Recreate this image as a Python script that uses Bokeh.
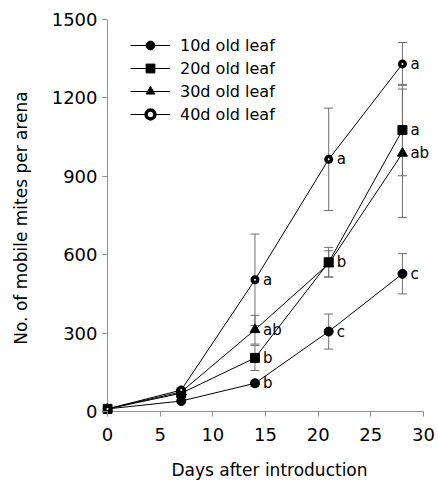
from bokeh.plotting import figure
from bokeh.models import Range1d, Whisker, TeeHead, ColumnDataSource, Legend, LegendItem, FixedTicker
from bokeh.core.properties import value
from bokeh.embed import file_html
from bokeh.resources import INLINE

days = [0, 7, 14, 21, 28]
leaf10 = [10, 40, 108, 306, 527]
err10 = [0, 5, 12, 67, 77]
leaf20 = [10, 70, 205, 571, 1077]
err20 = [0, 8, 48, 57, 175]
leaf30 = [10, 75, 313, 565, 988]
err30 = [0, 8, 55, 50, 246]
leaf40 = [10, 82, 504, 965, 1330]
err40 = [0, 10, 175, 196, 82]
sig10 = ["", "", "b", "c", "c"]
sig20 = ["", "", "b", "b", "a"]
sig30 = ["", "", "ab", "", "ab"]
sig40 = ["", "", "a", "a", "a"]
names = ["10d old leaf", "20d old leaf", "30d old leaf", "40d old leaf"]
x_ticks = [0, 5, 10, 15, 20, 25, 30]
y_ticks = [0, 300, 600, 900, 1200, 1500]

FONT = "DejaVu Sans"
GRAY = "#6e6e6e"
AXIS_GRAY = "#8f8f8f"

p = figure(width=436, height=486, output_backend="svg", toolbar_location=None,
           x_range=Range1d(-0.475, 31.235), y_range=Range1d(-19.1, 1500),
           min_border_left=102, min_border_right=0, min_border_top=19, min_border_bottom=70)
p.outline_line_color = None
p.xgrid.visible = False
p.ygrid.visible = False

for ax in (p.xaxis[0], p.yaxis[0]):
    ax.axis_line_color = None
    ax.major_tick_line_color = AXIS_GRAY
    ax.minor_tick_line_color = None
    ax.major_tick_in = 5
    ax.major_tick_out = 0
    ax.major_label_text_font = FONT
    ax.major_label_text_font_size = "18px"
    ax.major_label_text_color = "black"
    ax.axis_label_text_font = FONT
    ax.axis_label_text_font_size = "17px"
    ax.axis_label_text_font_style = "normal"
    ax.axis_label_text_color = "black"

p.xaxis.ticker = FixedTicker(ticks=x_ticks)
p.yaxis.ticker = FixedTicker(ticks=y_ticks)
p.xaxis.axis_label = "Days after introduction"
p.yaxis.axis_label = "No. of mobile mites per arena"
p.xaxis.major_label_standoff = 11
p.yaxis.major_label_standoff = 5
p.xaxis.axis_label_standoff = 16
p.yaxis.axis_label_standoff = 18

# axis lines through the origin, spanning the tick range
p.segment(x0=[x_ticks[0], x_ticks[0]], y0=[y_ticks[0], y_ticks[0]],
          x1=[x_ticks[-1], x_ticks[0]], y1=[y_ticks[0], y_ticks[-1]],
          line_color=AXIS_GRAY, line_width=1)

series = [
    (leaf10, err10, sig10, "circle", 9, "black", 1),
    (leaf20, err20, sig20, "square", 9, "black", 1),
    (leaf30, err30, sig30, "triangle", 10, "black", 1),
    (leaf40, err40, sig40, "circle", 5.5, "white", 3.5),
]

items = []
for (vals, errs, sigs, marker, size, fill, lw), name in zip(series, names):
    src = ColumnDataSource(dict(
        x=days, y=vals,
        lo=[v - e for v, e in zip(vals, errs)],
        hi=[v + e for v, e in zip(vals, errs)],
        lab=sigs))
    w = Whisker(source=src, base="x", lower="lo", upper="hi",
                line_color=GRAY, line_width=1,
                upper_head=TeeHead(size=9, line_color=GRAY, line_width=1),
                lower_head=TeeHead(size=9, line_color=GRAY, line_width=1))
    p.add_layout(w)
    lr = p.line("x", "y", source=src, line_color="black", line_width=1)
    sr = p.scatter("x", "y", source=src, marker=marker, size=size,
                   fill_color=fill, line_color="black", line_width=lw)
    p.text("x", "y", text="lab", source=src, x_offset=8,
           text_font=value(FONT), text_font_size="15px",
           text_align="left", text_baseline="middle", text_color="black")
    items.append(LegendItem(label=name, renderers=[lr, sr]))

legend = Legend(items=items, location=(28, 291))
legend.border_line_color = None
legend.background_fill_alpha = 0
legend.glyph_width = 40
legend.glyph_height = 22
legend.label_height = 22
legend.spacing = 1
legend.padding = 5
legend.margin = 0
legend.label_standoff = 10
legend.label_text_font = FONT
legend.label_text_font_size = "16px"
legend.label_text_color = "black"
p.add_layout(legend, "center")

open("out.html", "w").write(file_html(p, INLINE))
